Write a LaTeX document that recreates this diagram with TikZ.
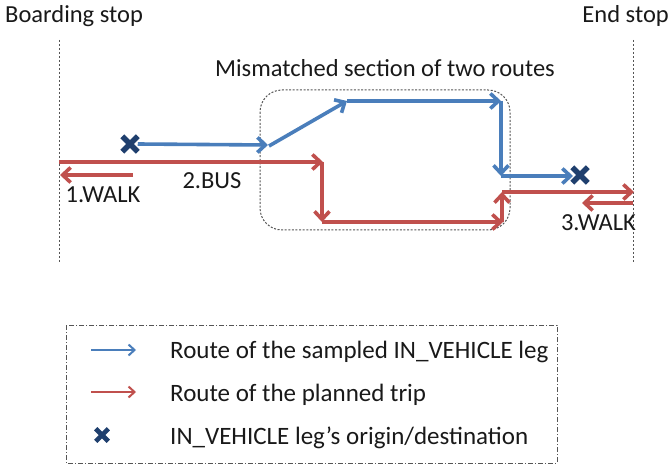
\documentclass[tikz,border=0pt]{standalone}
\usepackage{fontspec}
\setmainfont{Carlito}
\usetikzlibrary{arrows.meta,shapes.misc}

\definecolor{routeblue}{HTML}{4A7EBB}
\definecolor{routered}{HTML}{C0504D}
\definecolor{marknavy}{HTML}{1F3F6E}
\definecolor{guidegray}{HTML}{555555}

\tikzset{
  lbl/.style={font=\fontsize{24.5}{29}\selectfont, text=black!90, inner sep=0pt},
  leg/.style={lbl, font=\fontsize{25}{30}\selectfont, anchor=base west},
  stopline/.style={draw=guidegray, line width=0.8pt, dash pattern=on 2pt off 2pt},
  sectionbox/.style={draw=guidegray, line width=1pt, dash pattern=on 2pt off 1.6pt, rounded corners=22pt},
  legendbox/.style={draw=guidegray, line width=0.8pt, dash pattern=on 5pt off 2pt on 1pt off 2pt},
  openhead/.style={-{Straight Barb[length=8pt,width=15pt]}},
  smallhead/.style={-{Straight Barb[length=6pt,width=11pt]}},
  blueleg/.style={openhead, draw=routeblue, line width=3.6pt},
  redleg/.style={openhead, draw=routered, line width=3.6pt},
  bluekey/.style={smallhead, draw=routeblue, line width=2pt},
  redkey/.style={smallhead, draw=routered, line width=2pt},
  odmark/.style={cross out, draw=marknavy, line width=5.5pt, minimum size=10pt, inner sep=0pt},
}

\begin{document}
\begin{tikzpicture}[x=1pt,y=-1pt]
\useasboundingbox (0,0) rectangle (672,465);

% stop headings and guide lines
\node[lbl, anchor=west] (board) at (5,16) {Boarding stop};
\node[lbl, anchor=east] (endst) at (669,16) {End stop};
\coordinate (bl1) at (59,40);  \coordinate (bl2) at (59,262);
\coordinate (el1) at (633,40); \coordinate (el2) at (633,262);
\draw[stopline] (bl1) -- (bl2);
\draw[stopline] (el1) -- (el2);

% mismatched section
\node[lbl] (mis) at (385,68) {Mismatched section of two routes};
\draw[sectionbox] (260,90) rectangle (510,230);

% sampled in-vehicle leg (blue)
\node[odmark] (orig) at (130,144) {};
\node[odmark] (dest) at (580,175) {};
\coordinate (b1) at (268,145);
\coordinate (b2) at (269,146);
\coordinate (b3) at (347,101);
\coordinate (b4) at (501,101);
\coordinate (b5) at (501,176);
\coordinate (b6) at (573,176);
\draw[blueleg] (orig.east) -- (b1);
\draw[blueleg] (b2) -- (b3);
\draw[blueleg] (b3) -- (b4);
\draw[blueleg] (b4) -- (b5);
\draw[blueleg] (b5) -- (b6);

% planned trip (red)
\coordinate (r0) at (59,162);
\coordinate (r1) at (323,162);
\coordinate (r2) at (322,222);
\coordinate (r3) at (503,222);
\coordinate (r4) at (502,192);
\coordinate (r5) at (634,192);
\draw[redleg] (r0) -- (r1);
\draw[redleg] (r1 -| r2) -- (r2);
\draw[redleg] (r2) -- (r3);
\draw[redleg] (r3 -| r4) -- (r4);
\draw[redleg] (r4) -- (r5);

% walking legs
\coordinate (w1a) at (133,175); \coordinate (w1b) at (60,175);
\coordinate (w3a) at (633,203); \coordinate (w3b) at (582,203);
\draw[redleg] (w1a) -- (w1b);
\draw[redleg] (w3a) -- (w3b);
\node[lbl] (walk1) at (103,195) {1.WALK};
\node[lbl] (bus) at (212,181) {2.BUS};
\node[lbl, anchor=east] (walk3) at (636,223) {3.WALK};

% legend
\draw[legendbox] (66,325) rectangle (557,463);
\coordinate (k1a) at (91,350);  \coordinate (k1b) at (136,350);
\coordinate (k2a) at (91,392);  \coordinate (k2b) at (136,392);
\draw[bluekey] (k1a) -- (k1b);
\draw[redkey] (k2a) -- (k2b);
\node[odmark, minimum size=8pt, line width=4.6pt] (kmark) at (102,435) {};
\node[leg] (t1) at (170,358) {Route of the sampled IN\_VEHICLE leg};
\node[leg] (t2) at (170,401) {Route of the planned trip};
\node[leg] (t3) at (170,444) {IN\_VEHICLE leg’s origin/destination};
\end{tikzpicture}
\end{document}
